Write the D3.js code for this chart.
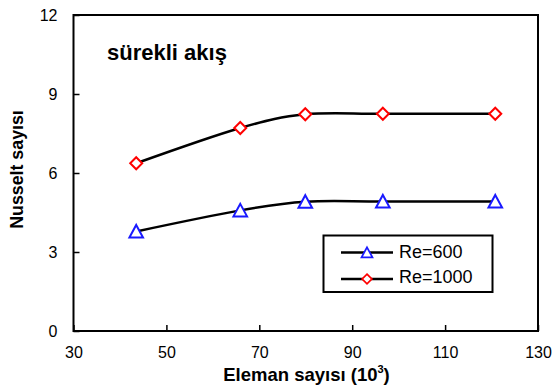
<!DOCTYPE html>
<html>
<head>
<meta charset="utf-8">
<script src="https://cdn.jsdelivr.net/npm/d3@7"></script>
<style>
  html, body { margin: 0; padding: 0; background: #fff; }
  svg { display: block; font-family: "Liberation Sans", Arial, sans-serif; }
</style>
</head>
<body>
<svg id="chart" width="554" height="389"></svg>
<script>
// Mesh element count (thousands) and Nusselt numbers for steady flow
const elements = [43.5, 65.9, 79.9, 96.6, 120.8];
const nuRe600 = [3.78, 4.58, 4.91, 4.92, 4.92];
const nuRe1000 = [6.37, 7.71, 8.23, 8.25, 8.25];
const xTicks = [30, 50, 70, 90, 110, 130];
const yTicks = [0, 3, 6, 9, 12];
const seriesNames = ["Re=600", "Re=1000"];

const svg = d3.select("#chart");
const plot = { left: 73.5, right: 538, top: 15, bottom: 331 };

const x = d3.scaleLinear().domain([30, 130]).range([plot.left, plot.right]);
const y = d3.scaleLinear().domain([0, 12]).range([plot.bottom, plot.top]);

// Axes with inward ticks
const xAxis = svg.append("g")
  .attr("transform", `translate(0,${plot.bottom})`)
  .call(d3.axisBottom(x).tickValues(xTicks).tickSize(-6).tickPadding(16).tickSizeOuter(0));
const yAxis = svg.append("g")
  .attr("transform", `translate(${plot.left},0)`)
  .call(d3.axisLeft(y).tickValues(yTicks).tickSize(-6).tickPadding(16).tickSizeOuter(0));

[xAxis, yAxis].forEach(g => {
  g.select(".domain").remove();
  g.selectAll(".tick line").attr("stroke", "#000").attr("stroke-width", 1.5);
  g.selectAll(".tick text").attr("font-size", 16).attr("fill", "#000")
    .attr("font-family", "Liberation Sans, Arial, sans-serif");
});

// Plot frame
svg.append("rect")
  .attr("x", plot.left).attr("y", plot.top)
  .attr("width", plot.right - plot.left).attr("height", plot.bottom - plot.top)
  .attr("fill", "none").attr("stroke", "#000").attr("stroke-width", 2);

// Smoothed series lines
const line = d3.line()
  .x((d, i) => x(elements[i]))
  .y(d => y(d))
  .curve(d3.curveCardinal.tension(0));

[nuRe600, nuRe1000].forEach(vals => {
  svg.append("path").datum(vals)
    .attr("d", line)
    .attr("fill", "none").attr("stroke", "#000").attr("stroke-width", 2.5);
});

// Marker shapes
const triangle = "M0,-6.5 L6.8,6 L-6.8,6 Z";
const diamond = "M0,-6 L6,0 L0,6 L-6,0 Z";

svg.append("g").selectAll("path").data(nuRe600).join("path")
  .attr("d", triangle)
  .attr("transform", (d, i) => `translate(${x(elements[i])},${y(d)})`)
  .attr("fill", "#fff").attr("stroke", "#1a1aff").attr("stroke-width", 2);

svg.append("g").selectAll("path").data(nuRe1000).join("path")
  .attr("d", diamond)
  .attr("transform", (d, i) => `translate(${x(elements[i])},${y(d)})`)
  .attr("fill", "#fff").attr("stroke", "#ff0000").attr("stroke-width", 2);

// Annotation
svg.append("text")
  .attr("x", 107).attr("y", 60)
  .attr("font-size", 22).attr("font-weight", "bold").attr("fill", "#000")
  .text("sürekli akış");

// Axis titles
const xTitle = svg.append("text")
  .attr("x", 306.5).attr("y", 380.5)
  .attr("text-anchor", "middle").attr("font-size", 18.5).attr("font-weight", "bold");
xTitle.append("tspan").text("Eleman sayısı (10");
xTitle.append("tspan").attr("font-size", 11).attr("dy", -8).text("3");
xTitle.append("tspan").attr("dy", 8).text(")");

svg.append("text")
  .attr("transform", "translate(22.5,169.5) rotate(-90)")
  .attr("text-anchor", "middle").attr("font-size", 17.8).attr("font-weight", "bold")
  .text("Nusselt sayısı");

// Legend
const legend = svg.append("g");
legend.append("rect")
  .attr("x", 323.5).attr("y", 235.5).attr("width", 169).attr("height", 56.5)
  .attr("fill", "#fff").attr("stroke", "#000").attr("stroke-width", 2);

const legendRows = [
  { name: seriesNames[0], shape: triangle, color: "#1a1aff", yy: 252.5, base: 257.5 },
  { name: seriesNames[1], shape: diamond, color: "#ff0000", yy: 279, base: 283 }
];
legendRows.forEach(r => {
  legend.append("line")
    .attr("x1", 341).attr("x2", 393).attr("y1", r.yy).attr("y2", r.yy)
    .attr("stroke", "#000").attr("stroke-width", 2.5);
  legend.append("path").attr("d", r.shape)
    .attr("transform", `translate(367,${r.yy}) scale(0.8)`)
    .attr("fill", "#fff").attr("stroke", r.color).attr("stroke-width", 2.2);
  legend.append("text")
    .attr("x", 399).attr("y", r.base)
    .attr("font-size", 18).attr("fill", "#000")
    .text(r.name);
});
</script>
</body>
</html>
